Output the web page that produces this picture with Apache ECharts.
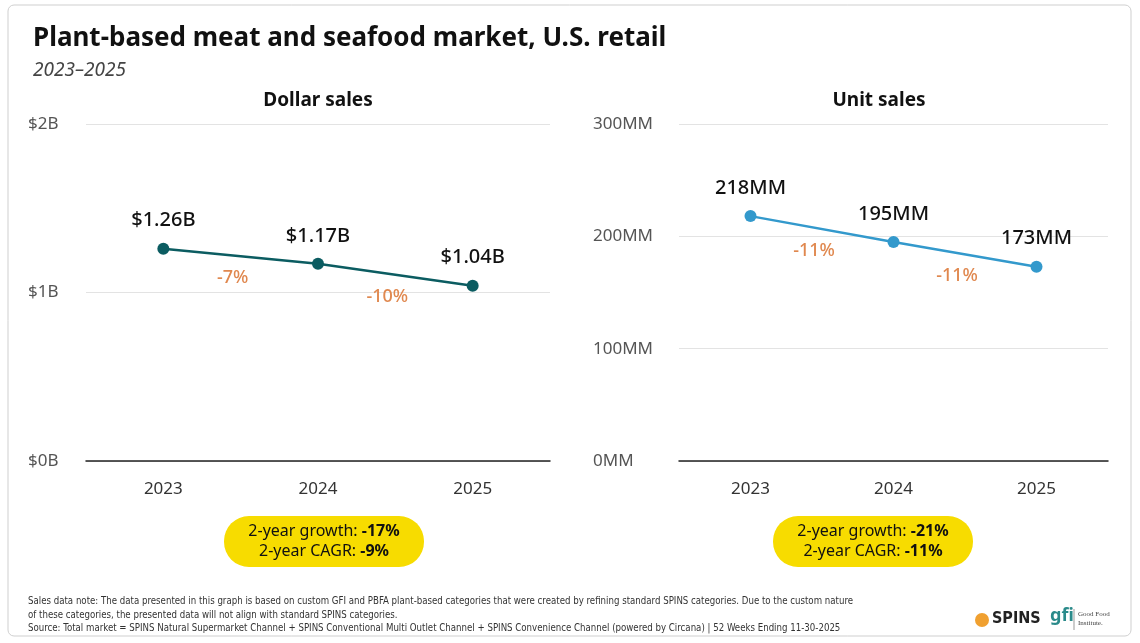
<!DOCTYPE html>
<html><head><meta charset="utf-8">
<script src="https://cdn.jsdelivr.net/npm/echarts@6/dist/echarts.min.js"></script>
<style>html,body{margin:0;padding:0;background:#fff}#c{width:1140px;height:643px}</style>
</head><body><div id="c"></div>
<script>
const years = ['2023','2024','2025'];
const dollarSales = [1.26, 1.17, 1.04];
const dollarLabels = ['$1.26B','$1.17B','$1.04B'];
const dollarChange = ['-7%','-10%'];
const unitSales = [218, 195, 173];
const unitLabels = ['218MM','195MM','173MM'];
const unitChange = ['-11%','-11%'];
const dollarTicks = ['$0B','$1B','$2B'];
const dollarSummary = ['-17%','-9%'];
const unitSummary = ['-21%','-11%'];

const F = 'Noto Sans, sans-serif';
const chart = echarts.init(document.getElementById('c'));
function xAxis(i){return {type:'category',data:years,gridIndex:i,boundaryGap:true,
  axisLine:{lineStyle:{color:'#222',width:1.5}},axisTick:{show:false},
  axisLabel:{color:'#333',fontSize:17,fontFamily:F,margin:20}};}
function lineSeries(i,data,labels,color){return {type:'line',xAxisIndex:i,yAxisIndex:i,data:data,
  symbol:'circle',symbolSize:12,lineStyle:{color:color,width:2.5},itemStyle:{color:color},
  label:{show:true,position:'top',distance:12,fontSize:20,fontFamily:F,fontWeight:500,color:'#111',
   formatter:p=>labels[p.dataIndex]}};}
const yBase={type:'value',min:0,splitLine:{lineStyle:{color:'#e3e3e3'}},axisLine:{show:false},axisTick:{show:false}};
chart.setOption({
  animation:false,
  title:[
    {text:'Plant-based meat and seafood market, U.S. retail',left:28,top:21,textStyle:{fontSize:26,fontWeight:'bold',color:'#111',fontFamily:F}},
    {text:'2023–2025',left:28,top:56,textStyle:{fontSize:19,fontStyle:'italic',fontWeight:'normal',color:'#444',fontFamily:F}},
    {text:'Dollar sales',left:313,top:86,textAlign:'center',textStyle:{fontSize:19,fontWeight:'bold',color:'#111',fontFamily:F}},
    {text:'Unit sales',left:874,top:86,textAlign:'center',textStyle:{fontSize:19,fontWeight:'bold',color:'#111',fontFamily:F}}
  ],
  grid:[{left:86,right:590,top:124,bottom:182},{left:679,right:32,top:124,bottom:182}],
  xAxis:[xAxis(0),xAxis(1)],
  yAxis:[
    {...yBase,gridIndex:0,max:2,interval:1,axisLabel:{color:'#555',fontSize:17,fontFamily:F,margin:58,align:'left',formatter:v=>dollarTicks[v]}},
    {...yBase,gridIndex:1,max:300,interval:100,axisLabel:{color:'#555',fontSize:17,fontFamily:F,margin:86,align:'left',formatter:v=>v+'MM'}}
  ],
  series:[lineSeries(0,dollarSales,dollarLabels,'#0b5c61'),lineSeries(1,unitSales,unitLabels,'#3399cc')]
});

const g = [
  {type:'rect',shape:{x:8,y:5,width:1123,height:631,r:6},style:{fill:'none',stroke:'#cfcfcf',lineWidth:1},silent:true}
];
function pct(i,data,labels){
  for(let k=0;k<2;k++){
    const a=chart.convertToPixel({gridIndex:i},[k,data[k]]);
    const b=chart.convertToPixel({gridIndex:i},[k+1,data[k+1]]);
    g.push({type:'text',x:(a[0]+b[0])/2-8,y:(a[1]+b[1])/2+22,style:{text:labels[k],fill:'#e0884f',font:'500 18px '+F,align:'center',verticalAlign:'middle'}});
  }
}
pct(0,dollarSales,dollarChange);pct(1,unitSales,unitChange);
function pill(cx,s){
  g.push({type:'rect',shape:{x:cx-100,y:516,width:200,height:51,r:25},style:{fill:'#f7dc00'}});
  g.push({type:'text',x:cx,y:541,style:{text:'{n|2-year growth: }{b|'+s[0]+'}\n{n|2-year CAGR: }{b|'+s[1]+'}',
    align:'center',verticalAlign:'middle',rich:{n:{fontSize:16,fontFamily:F,fill:'#111',lineHeight:20},b:{fontSize:16,fontFamily:F,fontWeight:'bold',fill:'#111',lineHeight:20}}}});
}
pill(324,dollarSummary);pill(873,unitSummary);
const NF='"Liberation Sans Narrow", "DejaVu Sans Condensed", sans-serif';
g.push({type:'text',x:28,y:594,style:{text:'Sales data note: The data presented in this graph is based on custom GFI and PBFA plant-based categories that were created by refining standard SPINS categories. Due to the custom nature\nof these categories, the presented data will not align with standard SPINS categories.',font:'9.6px '+NF,fill:'#333',lineHeight:14}});
g.push({type:'text',x:28,y:623,style:{text:'Source: Total market = SPINS Natural Supermarket Channel + SPINS Conventional Multi Outlet Channel + SPINS Convenience Channel (powered by Circana) | 52 Weeks Ending 11-30-2025',font:'9.6px '+NF,fill:'#333'}});
g.push({type:'circle',shape:{cx:982,cy:620,r:7},style:{fill:'#f0a030'}});
g.push({type:'text',x:992,y:611,style:{text:'SPINS',font:'bold 16px '+NF,fill:'#222'}});
g.push({type:'text',x:1050,y:607,style:{text:'gfi',font:'bold 18px '+F,fill:'#2a8a8a'}});
g.push({type:'line',shape:{x1:1074,y1:609,x2:1074,y2:630},style:{stroke:'#999'}});
g.push({type:'text',x:1078,y:610,style:{text:'Good Food\nInstitute.',font:'7px serif',fill:'#444',lineHeight:9}});
chart.setOption({graphic:g});
</script></body></html>
